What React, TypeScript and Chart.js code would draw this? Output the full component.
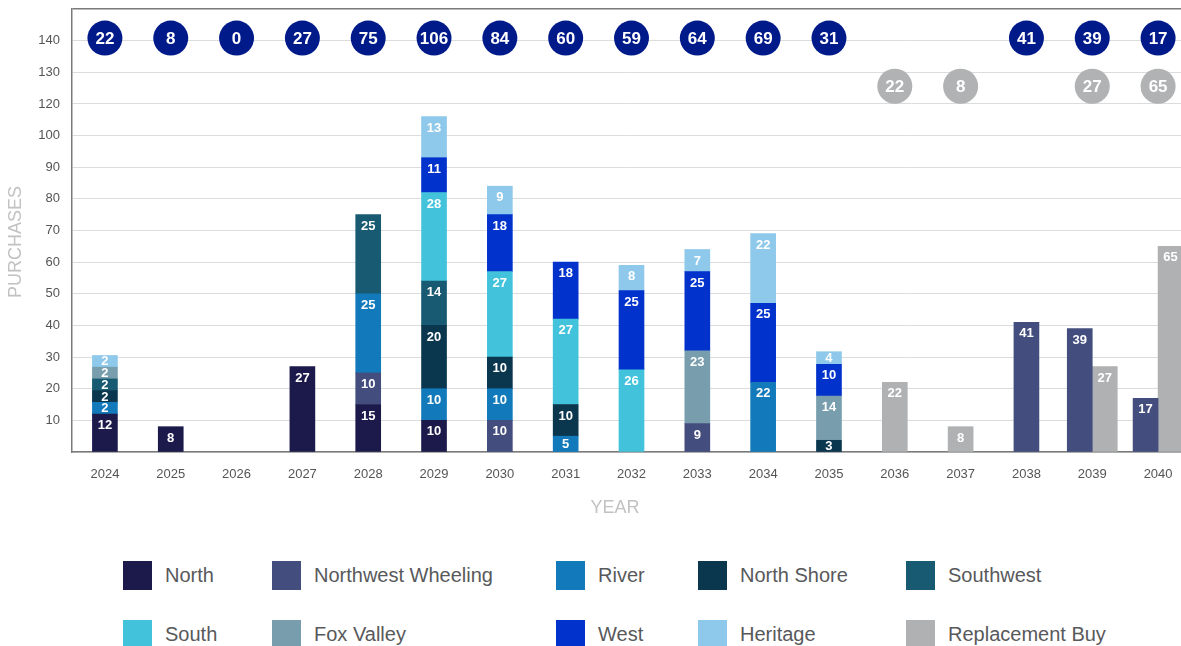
import React, { useEffect, useRef } from 'react';
import { Chart, registerables } from 'chart.js';

Chart.register(...registerables);

// ---------- Data ----------
const years = ['2024', '2025', '2026', '2027', '2028', '2029', '2030', '2031', '2032', '2033', '2034', '2035', '2036', '2037', '2038', '2039', '2040'];

const north = [12, 8, null, 27, 15, 10, null, null, null, null, null, null, null, null, null, null, null];
const northwestWheeling = [null, null, null, null, 10, null, 10, null, null, 9, null, null, null, null, 41, 39, 17];
const river = [2, null, null, null, 25, 10, 10, 5, null, null, 22, null, null, null, null, null, null];
const northShore = [2, null, null, null, null, 20, 10, 10, null, null, null, 3, null, null, null, null, null];
const southwest = [2, null, null, null, 25, 14, null, null, null, null, null, null, null, null, null, null, null];
const south = [null, null, null, null, null, 28, 27, 27, 26, null, null, null, null, null, null, null, null];
const foxValley = [2, null, null, null, null, null, null, null, null, 23, null, 14, null, null, null, null, null];
const west = [null, null, null, null, null, 11, 18, 18, 25, 25, 25, 10, null, null, null, null, null];
const heritage = [2, null, null, null, null, 13, 9, null, 8, 7, 22, 4, null, null, null, null, null];
const replacementBuy = [null, null, null, null, null, null, null, null, null, null, null, null, 22, 8, null, 27, 65];

const yTickValues = [10, 20, 30, 40, 50, 60, 70, 80, 90, 100, 110, 120, 130];
const yTickLabels = ['10', '20', '30', '40', '50', '60', '70', '80', '90', '100', '120', '130', '140'];

// ---------- Styles ----------
const FONT = '"Liberation Sans", Arial, Helvetica, sans-serif';
const MIN_SEG = 3.7; // minimum visible segment height (value units)
const TOTAL_BUBBLE_Y = 130.8;
const REPL_BUBBLE_Y = 115.6;

const mainSeries = [
  { label: 'North', color: '#1b1a4b', data: north },
  { label: 'Northwest Wheeling', color: '#444e7e', data: northwestWheeling },
  { label: 'River', color: '#127abb', data: river },
  { label: 'North Shore', color: '#0b374e', data: northShore },
  { label: 'Southwest', color: '#175a72', data: southwest },
  { label: 'South', color: '#43c3db', data: south },
  { label: 'Fox Valley', color: '#789eae', data: foxValley },
  { label: 'West', color: '#0232cc', data: west },
  { label: 'Heritage', color: '#8ec8ea', data: heritage },
];
const replacementSeries = { label: 'Replacement Buy', color: '#afb1b2', data: replacementBuy };

function buildDatasets() {
  const cum = years.map(() => 0);
  const ds: any[] = mainSeries.map((s) => ({
    label: s.label,
    backgroundColor: s.color,
    stack: 'main',
    values: s.data,
    data: s.data.map((v, i) => {
      if (v == null) return null;
      const start = cum[i];
      const end = start + Math.max(v, MIN_SEG);
      cum[i] = end;
      return [start, end];
    }),
  }));
  ds.push({
    label: replacementSeries.label,
    backgroundColor: replacementSeries.color,
    stack: 'replacement',
    values: replacementSeries.data,
    data: replacementSeries.data.map((v) => (v == null ? null : [0, Math.max(v, MIN_SEG)])),
  });
  return ds;
}

const overlayPlugin = {
  id: 'overlay',
  afterDatasetsDraw(chart: any) {
    const ctx = chart.ctx;
    const xScale = chart.scales.x;
    const yScale = chart.scales.y;
    ctx.save();
    // segment labels
    ctx.font = `bold 13px ${FONT}`;
    ctx.fillStyle = '#ffffff';
    ctx.textAlign = 'center';
    ctx.textBaseline = 'middle';
    chart.data.datasets.forEach((ds: any, di: number) => {
      const meta = chart.getDatasetMeta(di);
      meta.data.forEach((el: any, i: number) => {
        const v = ds.values[i];
        if (v == null) return;
        const { x, y, base } = el.getProps(['x', 'y', 'base'], true);
        const top = Math.min(y, base);
        const h = Math.abs(base - y);
        ctx.fillText(String(v), x, top + Math.min(11, h / 2) + 0.5);
      });
    });
    // bubbles
    const drawBubble = (x: number, y: number, txt: string, color: string) => {
      ctx.beginPath();
      ctx.arc(x, y, 17.5, 0, Math.PI * 2);
      ctx.fillStyle = color;
      ctx.fill();
      ctx.fillStyle = '#ffffff';
      ctx.font = `bold 17px ${FONT}`;
      ctx.fillText(txt, x, y + 1);
    };
    years.forEach((_, i) => {
      const hasMain = mainSeries.some((s) => s.data[i] != null);
      const total = mainSeries.reduce((a, s) => a + (s.data[i] ?? 0), 0);
      const rep = replacementSeries.data[i];
      const x = xScale.getPixelForValue(i);
      if (hasMain || rep == null) drawBubble(x, yScale.getPixelForValue(TOTAL_BUBBLE_Y), String(total), '#001a8a');
      if (rep != null) drawBubble(x, yScale.getPixelForValue(REPL_BUBBLE_Y), String(rep), '#b0b2b3');
    });
    ctx.restore();
  },
  afterDraw(chart: any) {
    const ctx = chart.ctx;
    ctx.save();
    ctx.fillStyle = '#c2c2c2';
    ctx.font = `18px ${FONT}`;
    ctx.textAlign = 'center';
    ctx.textBaseline = 'middle';
    ctx.fillText('YEAR', 615, 508);
    ctx.translate(16, 242);
    ctx.rotate(-Math.PI / 2);
    ctx.fillText('PURCHASES', 0, 0);
    ctx.restore();
  },
};

const legendItems = [...mainSeries, replacementSeries];
const legendCols = [123, 272, 556, 698, 906];
const legendRows = [561, 620];

export default function App() {
  const canvasRef = useRef<HTMLCanvasElement | null>(null);

  useEffect(() => {
    if (!canvasRef.current) return;
    const chart = new Chart(canvasRef.current, {
      type: 'bar',
      data: { labels: years, datasets: buildDatasets() },
      options: {
        responsive: false,
        animation: false,
        devicePixelRatio: 1,
        layout: { padding: { top: 9, right: 0, bottom: 0, left: 0 } },
        datasets: {
          bar: { barThickness: 25, skipNull: true, borderWidth: 0, grouped: true } as any,
        },
        plugins: { legend: { display: false }, tooltip: { enabled: false } },
        scales: {
          x: {
            grid: { display: false, drawTicks: false },
            border: { display: true, color: '#7a7a7a', width: 1.5 },
            ticks: {
              autoSkip: false,
              maxRotation: 0,
              padding: 15,
              color: '#555555',
              font: { family: FONT, size: 13 },
            },
            afterFit: (scale: any) => {
              scale.height = 78;
              scale.paddingLeft = 0;
              scale.paddingRight = 0;
            },
          },
          y: {
            stacked: false,
            min: 0,
            max: 140,
            grid: {
              drawTicks: false,
              color: (c: any) => (c.tick && c.tick.value === 140 ? '#7a7a7a' : '#dcdcdc'),
              lineWidth: (c: any) => (c.tick && c.tick.value === 140 ? 1.5 : 1),
            },
            border: { display: true, color: '#7a7a7a', width: 1.5 },
            ticks: {
              stepSize: 10,
              padding: 12,
              color: '#555555',
              font: { family: FONT, size: 13 },
              callback: (value: any) => {
                const idx = yTickValues.indexOf(Number(value));
                return idx >= 0 ? yTickLabels[idx] : '';
              },
            },
            afterFit: (scale: any) => {
              scale.width = 72;
              scale.paddingTop = 0;
              scale.paddingBottom = 0;
            },
          },
        },
      },
      plugins: [overlayPlugin],
    });
    return () => chart.destroy();
  }, []);

  return (
    <div
      style={{
        position: 'fixed',
        left: 0,
        top: 0,
        width: 1181,
        height: 646,
        overflow: 'hidden',
        background: '#ffffff',
      }}
    >
      <canvas ref={canvasRef} width={1191} height={530} style={{ position: 'absolute', left: 0, top: 0 }} />
      {legendItems.map((item, i) => {
        const col = i % 5;
        const row = Math.floor(i / 5);
        return (
          <div
            key={item.label}
            style={{
              position: 'absolute',
              left: legendCols[col],
              top: legendRows[row],
              height: 29,
              display: 'flex',
              alignItems: 'center',
              whiteSpace: 'nowrap',
            }}
          >
            <span style={{ display: 'inline-block', width: 29, height: 29, background: item.color }} />
            <span
              style={{
                marginLeft: 13,
                fontFamily: FONT,
                fontSize: 20,
                lineHeight: '29px',
                color: '#58595b',
              }}
            >
              {item.label}
            </span>
          </div>
        );
      })}
    </div>
  );
}
